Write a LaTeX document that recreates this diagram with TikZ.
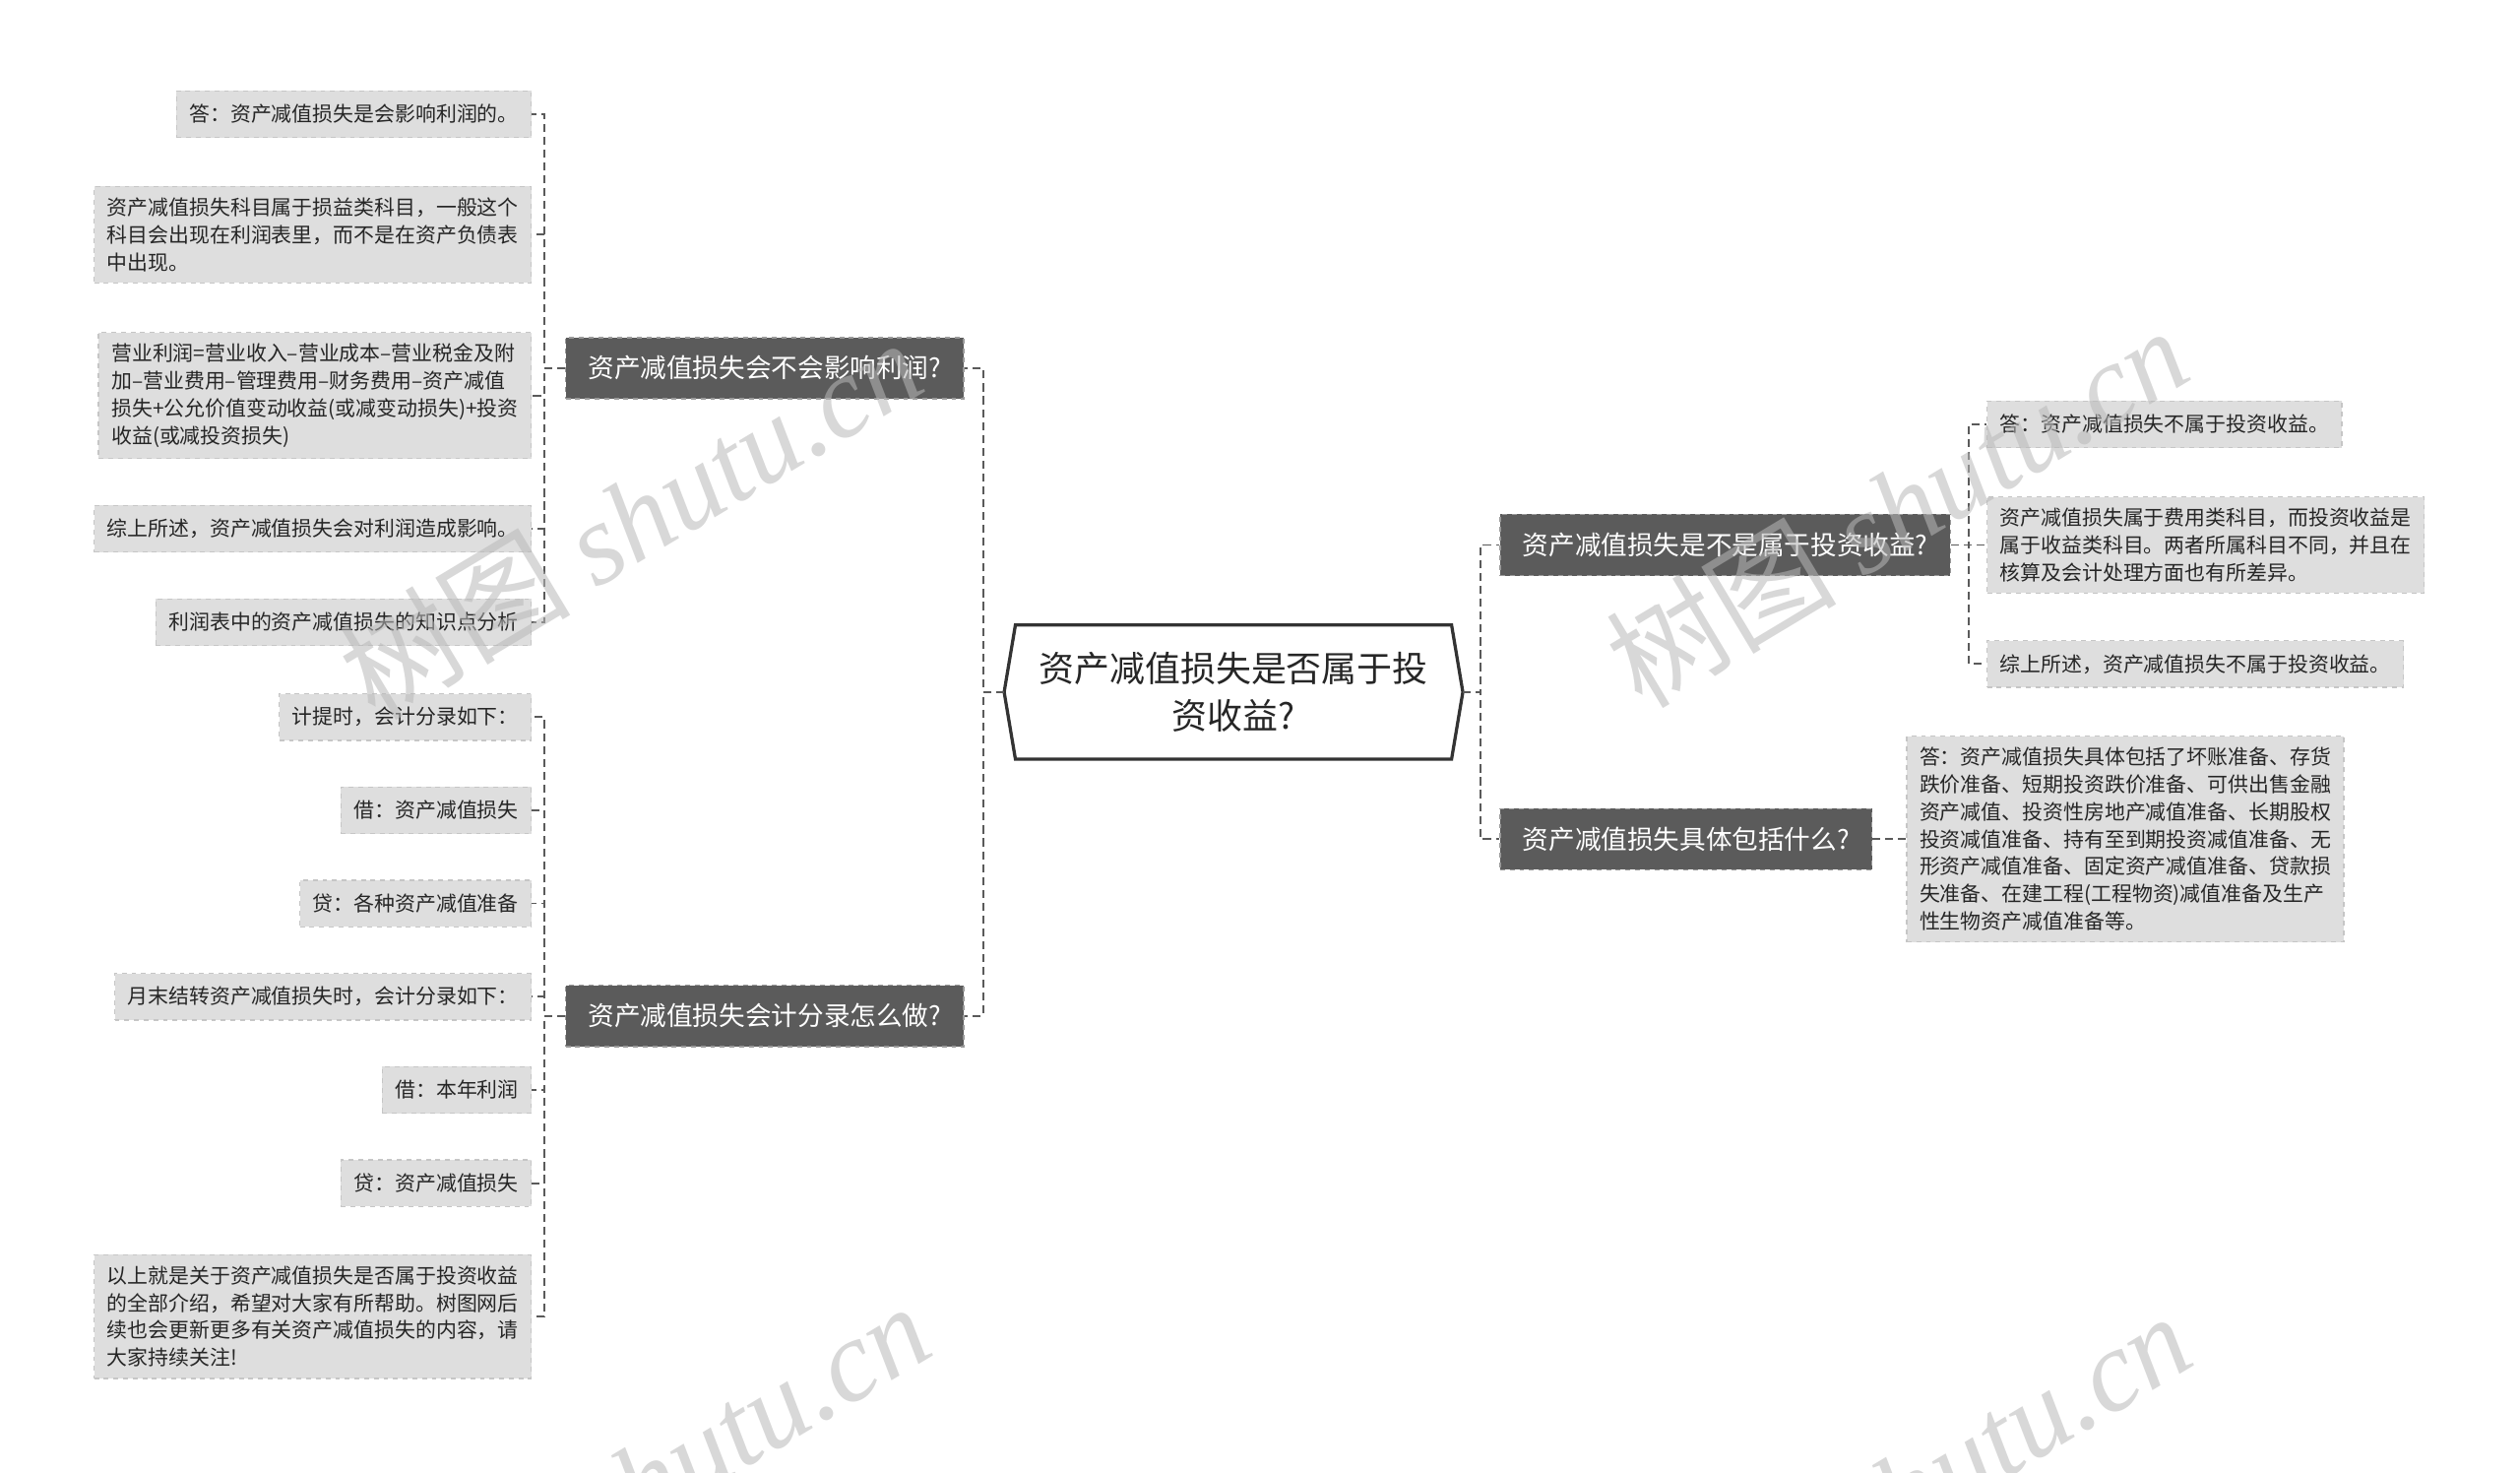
\documentclass[tikz,border=0pt]{standalone}
\usepackage{fontspec}
\newfontfamily\cjk{Noto Sans CJK SC}
\newfontfamily\wmserif{Liberation Serif}
\definecolor{leaffill}{HTML}{DEDEDE}
\definecolor{leafline}{HTML}{C6C6C6}
\definecolor{brfill}{HTML}{5B5B5B}
\definecolor{brline}{HTML}{9A9A9A}
\definecolor{connc}{HTML}{5A5A5A}
\definecolor{wmc}{HTML}{B8B8B8}
\definecolor{centline}{HTML}{333333}
\begin{document}
\begin{tikzpicture}[x=1pt,y=-1pt,
  leaf/.style={fill=leaffill, draw=leafline, dashed, line width=0.8pt, inner xsep=8pt, inner ysep=7pt, minimum height=29pt, font=\cjk\fontsize{12.8}{17}\selectfont, align=left, text=black!85},
  branch/.style={fill=brfill, draw=brline, dashed, line width=0.8pt, inner xsep=14pt, inner ysep=8pt, minimum height=38pt, text=white, font=\cjk\fontsize{16.3}{20}\selectfont},
  conn/.style={draw=connc, line width=1.1pt, dash pattern=on 5pt off 3pt},
  wmark/.style={text=wmc, text opacity=0.55, font=\cjk\fontsize{72}{76}\selectfont, inner sep=0pt}
]
\useasboundingbox (0,0) rectangle (1568,916);
\fill[white] (0,0) rectangle (1568,916);

% center
\node[minimum width=285pt, minimum height=83pt, inner sep=0pt, align=center, font=\cjk\fontsize{22}{30}\selectfont, text=black!85] (c) at (767.5,430.5) {资产减值损失是否属于投\\资收益?};
\draw[centline, line width=2pt, fill=none] ([xshift=7pt]c.north west) -- ([xshift=-7pt]c.north east) -- (c.east) -- ([xshift=-7pt]c.south east) -- ([xshift=7pt]c.south west) -- (c.west) -- cycle;

% branches
\node[branch, anchor=east] (b1) at (600,229) {资产减值损失会不会影响利润?};
\node[branch, anchor=east] (b2) at (600,632) {资产减值损失会计分录怎么做?};
\node[branch, anchor=west] (b3) at (933,339) {资产减值损失是不是属于投资收益?};
\node[branch, anchor=west] (b4) at (933,522) {资产减值损失具体包括什么?};

% left leaves group 1
\node[leaf, anchor=east] (l1) at (331,71) {答：资产减值损失是会影响利润的。};
\node[leaf, anchor=east] (l2) at (331,146) {资产减值损失科目属于损益类科目，一般这个\\科目会出现在利润表里，而不是在资产负债表\\中出现。};
\node[leaf, anchor=east] (l3) at (331,246) {营业利润=营业收入–营业成本–营业税金及附\\加–营业费用–管理费用–财务费用–资产减值\\损失+公允价值变动收益(或减变动损失)+投资\\收益(或减投资损失)};
\node[leaf, anchor=east] (l4) at (331,329) {综上所述，资产减值损失会对利润造成影响。};
\node[leaf, anchor=east] (l5) at (331,387) {利润表中的资产减值损失的知识点分析};

% left leaves group 2
\node[leaf, anchor=east] (m1) at (331,446) {计提时，会计分录如下：};
\node[leaf, anchor=east] (m2) at (331,504) {借：资产减值损失};
\node[leaf, anchor=east] (m3) at (331,562) {贷：各种资产减值准备};
\node[leaf, anchor=east] (m4) at (331,620) {月末结转资产减值损失时，会计分录如下：};
\node[leaf, anchor=east] (m5) at (331,678) {借：本年利润};
\node[leaf, anchor=east] (m6) at (331,736) {贷：资产减值损失};
\node[leaf, anchor=east] (m7) at (331,819) {以上就是关于资产减值损失是否属于投资收益\\的全部介绍，希望对大家有所帮助。树图网后\\续也会更新更多有关资产减值损失的内容，请\\大家持续关注!};

% right leaves
\node[leaf, anchor=west] (r1) at (1236,264) {答：资产减值损失不属于投资收益。};
\node[leaf, anchor=west] (r2) at (1236,339) {资产减值损失属于费用类科目，而投资收益是\\属于收益类科目。两者所属科目不同，并且在\\核算及会计处理方面也有所差异。};
\node[leaf, anchor=west] (r3) at (1236,413) {综上所述，资产减值损失不属于投资收益。};
\node[leaf, anchor=west] (s1) at (1186,522) {答：资产减值损失具体包括了坏账准备、存货\\跌价准备、短期投资跌价准备、可供出售金融\\资产减值、投资性房地产减值准备、长期股权\\投资减值准备、持有至到期投资减值准备、无\\形资产减值准备、固定资产减值准备、贷款损\\失准备、在建工程(工程物资)减值准备及生产\\性生物资产减值准备等。};

% connectors center -> branches
\draw[conn] (c.west) -- ++(-13,0) |- (b1.east);
\draw[conn] (c.west) -- ++(-13,0) |- (b2.east);
\draw[conn] (c.east) -- ++(11,0) |- (b3.west);
\draw[conn] (c.east) -- ++(11,0) |- (b4.west);

% branch 1 -> leaves
\foreach \n in {l1,l2,l3,l4,l5} {\draw[conn] (b1.west) -- ++(-13,0) |- (\n.east);}
% branch 2 -> leaves
\foreach \n in {m1,m2,m3,m4,m5,m6,m7} {\draw[conn] (b2.west) -- ++(-13,0) |- (\n.east);}
% branch 3 -> leaves
\foreach \n in {r1,r2,r3} {\draw[conn] (b3.east) -- ++(11,0) |- (\n.west);}
% branch 4 -> leaf
\draw[conn] (b4.east) -- (s1.west);

% watermarks (on top, translucent)
\node[wmark, rotate=31] (w1) at (392,322) {树图 {\wmserif\itshape shutu.cn}};
\node[wmark, rotate=31] (w2) at (1180,315) {树图 {\wmserif\itshape shutu.cn}};
\node[wmark, rotate=31] (w3) at (397,922) {树图 {\wmserif\itshape shutu.cn}};
\node[wmark, rotate=31] (w4) at (1182,928) {树图 {\wmserif\itshape shutu.cn}};
\end{tikzpicture}
\end{document}
